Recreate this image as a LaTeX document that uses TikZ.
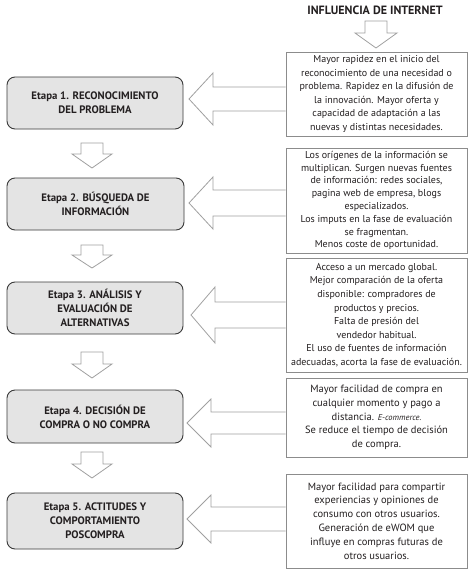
\documentclass[tikz,border=0pt]{standalone}
\usepackage{fontspec}
\setmainfont{PT Sans}
\usetikzlibrary{calc}
\definecolor{txt}{HTML}{231F20}
\definecolor{stagefill}{HTML}{E4E4E4}
\definecolor{stageline}{HTML}{3A3A3A}
\definecolor{infoline}{HTML}{8C8C8C}
\definecolor{arrline}{HTML}{A0A0A0}
\newcommand\larrow[4]{%
  \filldraw[arr] ($(#1.west |- #2)+(0,-#3)$) -- ($(#2)+(24,-#3)$) -- ($(#2)+(24,-#4)$) -- (#2)
    -- ($(#2)+(24,#4)$) -- ($(#2)+(24,#3)$) -- ($(#1.west |- #2)+(0,#3)$);}
\newcommand\darrow[4]{% top, tip, head length, head half width
  \filldraw[arr] ($(#1)+(-11,0)$) -- ($(#2)+(-11,-#3)$) -- ($(#2)+(-#4,-#3)$) -- (#2)
    -- ($(#2)+(#4,-#3)$) -- ($(#2)+(11,-#3)$) -- ($(#1)+(11,0)$) -- cycle;}
\begin{document}
\begin{tikzpicture}[x=1pt,y=-1pt,
  stagebox/.style={draw=stageline, fill=stagefill, rounded corners=8pt, line width=0.9pt,
    font=\fontsize{10.8}{14}\selectfont\bfseries, text=txt, align=center, inner sep=0pt},
  infobox/.style={draw=infoline, fill=white, line width=0.9pt,
    font=\fontsize{10}{13.6}\selectfont, text=txt, align=center, inner sep=0pt},
  arr/.style={draw=arrline, fill=white, line width=0.8pt, line join=miter}]
\useasboundingbox (0,0) rectangle (474,576);
\fill[white] (0,0) rectangle (474,576);

\node[font=\fontsize{12}{14}\selectfont\bfseries, text=txt] (title) at (375,10) {INFLUENCIA DE INTERNET};

% stage boxes
\node[stagebox, minimum width=176pt, minimum height=52pt] (e1) at (95,103) {Etapa 1. RECONOCIMIENTO\\DEL PROBLEMA};
\node[stagebox, minimum width=177pt, minimum height=52pt] (e2) at (95.5,204) {Etapa 2. BÚSQUEDA DE\\INFORMACIÓN};
\node[stagebox, minimum width=176pt, minimum height=52pt] (e3) at (95,308) {Etapa 3. ANÁLISIS Y\\EVALUACIÓN DE\\ALTERNATIVAS};
\node[stagebox, minimum width=176pt, minimum height=53pt] (e4) at (95,416.5) {Etapa 4. DECISIÓN DE\\COMPRA O NO COMPRA};
\node[stagebox, minimum width=176pt, minimum height=56pt] (e5) at (95,521) {Etapa 5. ACTITUDES Y\\COMPORTAMIENTO\\POSCOMPRA};

% info boxes
\node[infobox, minimum width=181pt, minimum height=84pt] (r1) at (376.5,94) {Mayor rapidez en el inicio del\\reconocimiento de una necesidad o\\problema. Rapidez en la difusión de\\la innovación. Mayor oferta y\\capacidad de adaptación a las\\nuevas y distintas necesidades.};
\node[infobox, minimum width=181pt, minimum height=105pt, font=\fontsize{10}{12.8}\selectfont] (r2) at (376.5,200.5) {Los orígenes de la información se\\multiplican. Surgen nuevas fuentes\\de información: redes sociales,\\pagina web de empresa, blogs\\especializados.\\Los imputs en la fase de evaluación\\se fragmentan.\\Menos coste de oportunidad.};
\node[infobox, minimum width=181pt, minimum height=114pt] (r3) at (376.5,315) {Acceso a un mercado global.\\Mejor comparación de la oferta\\disponible: compradores de\\productos y precios.\\Falta de presión del\\vendedor habitual.\\El uso de fuentes de información\\adecuadas, acorta la fase de evaluación.};
\node[infobox, minimum width=181pt, minimum height=79pt, font=\fontsize{10.5}{13.8}\selectfont] (r4) at (376.5,417.5) {Mayor facilidad de compra en\\cualquier momento y pago a\\distancia. {\itshape\fontsize{8.5}{13.8}\selectfont E-commerce.}\\Se reduce el tiempo de decisión\\de compra.};
\node[infobox, minimum width=181pt, minimum height=94pt, font=\fontsize{10.5}{13.8}\selectfont] (r5) at (376.5,521) {Mayor facilidad para compartir\\experiencias y opiniones de\\consumo con otros usuarios.\\Generación de eWOM que\\influye en compras futuras de\\otros usuarios.};

% arrow coordinates
\coordinate (t1) at (189,99);
\coordinate (t2) at (189,203);
\coordinate (t3) at (191,315);
\coordinate (t4) at (187,423);
\coordinate (t5) at (187,519);
\larrow{r1}{t1}{12}{26}
\larrow{r2}{t2}{13}{26}
\larrow{r3}{t3}{13}{28}
\larrow{r4}{t4}{11}{24}
\larrow{r5}{t5}{12}{24}

\coordinate (ta) at (376,21);
\coordinate (tb) at (376,48);
\darrow{ta}{tb}{15}{21}
\coordinate (d1a) at (92,143);
\coordinate (d1b) at (92,168);
\coordinate (d2a) at (92,245);
\coordinate (d2b) at (92,268);
\coordinate (d3a) at (92,352);
\coordinate (d3b) at (92,378);
\coordinate (d4a) at (92,452);
\coordinate (d4b) at (92,478);
\darrow{d1a}{d1b}{14}{20}
\darrow{d2a}{d2b}{13}{20}
\darrow{d3a}{d3b}{14}{20}
\darrow{d4a}{d4b}{14}{20}
\end{tikzpicture}
\end{document}
